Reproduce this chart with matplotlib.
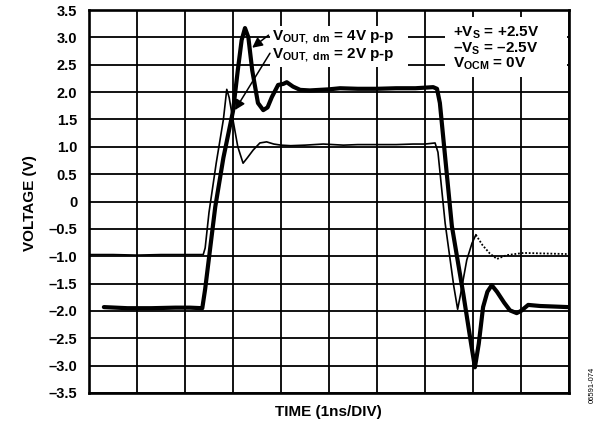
import matplotlib
matplotlib.use("Agg")
import matplotlib.pyplot as plt
from matplotlib.patches import Rectangle

plt.rcParams['font.family'] = ['Liberation Sans', 'DejaVu Sans']
plt.rcParams['font.weight'] = 'bold'
plt.rcParams['mathtext.fontset'] = 'custom'
plt.rcParams['mathtext.rm'] = 'Liberation Sans:bold'
plt.rcParams['mathtext.bf'] = 'Liberation Sans:bold'
plt.rcParams['mathtext.it'] = 'Liberation Sans:bold'

# --- data (time in ns, voltage in V) ---
# 4V p-p output (thick trace)
t_4v = [0.31, 0.8, 1.3, 1.8, 2.1, 2.36, 2.42, 2.63, 2.8, 3.0, 3.1, 3.18, 3.25,
        3.32, 3.4, 3.52, 3.63, 3.72, 3.81, 3.94, 4.05, 4.12, 4.25, 4.4, 4.6,
        5.0, 5.23, 5.6, 6.0, 6.4, 6.8, 7.17, 7.25, 7.31, 7.56, 7.8, 7.96, 8.04,
        8.12, 8.21, 8.3, 8.39, 8.5, 8.65, 8.77, 8.91, 9.0, 9.15, 9.4, 9.7, 9.98]
v_4v = [-1.93, -1.95, -1.95, -1.94, -1.94, -1.95, -1.6, -0.1, 0.8, 1.65, 2.4,
        2.95, 3.17, 3.0, 2.4, 1.8, 1.67, 1.72, 1.91, 2.13, 2.15, 2.18, 2.1, 2.04,
        2.03, 2.05, 2.07, 2.06, 2.06, 2.07, 2.07, 2.09, 2.06, 1.8, -0.45, -1.7,
        -2.6, -3.03, -2.6, -1.93, -1.65, -1.53, -1.65, -1.85, -1.99, -2.04, -2.0,
        -1.89, -1.91, -1.92, -1.93]

# 2V p-p output (thin trace), solid part then dotted tail
t_2v = [0.0, 0.5, 1.0, 1.5, 2.0, 2.38, 2.42, 2.5, 2.65, 2.8, 2.87, 2.92, 3.0,
        3.1, 3.21, 3.3, 3.42, 3.56, 3.7, 3.85, 4.0, 4.2, 4.5, 4.88, 5.3, 5.6,
        6.0, 6.4, 6.75, 7.0, 7.21, 7.27, 7.42, 7.6, 7.68, 7.74, 7.87, 7.98, 8.06]
v_2v = [-0.97, -0.97, -0.98, -0.97, -0.97, -0.97, -0.85, -0.2, 0.7, 1.5, 2.05,
        1.9, 1.49, 1.0, 0.7, 0.8, 0.94, 1.07, 1.09, 1.05, 1.03, 1.02, 1.03, 1.05,
        1.03, 1.04, 1.04, 1.04, 1.05, 1.05, 1.07, 0.9, -0.4, -1.55, -1.97, -1.7,
        -1.07, -0.76, -0.61]
t_2v_tail = [8.06, 8.2, 8.35, 8.5, 8.7, 9.05, 9.5, 9.95]
v_2v_tail = [-0.61, -0.8, -0.95, -1.05, -0.98, -0.94, -0.95, -0.96]

y_ticks = [3.5, 3.0, 2.5, 2.0, 1.5, 1.0, 0.5, 0, -0.5, -1.0, -1.5, -2.0, -2.5, -3.0, -3.5]
y_labels = ['3.5', '3.0', '2.5', '2.0', '1.5', '1.0', '0.5', '0', '–0.5', '–1.0',
            '–1.5', '–2.0', '–2.5', '–3.0', '–3.5']

fig = plt.figure(figsize=(5.97, 4.25), dpi=100)
ax = fig.add_axes([89/597, 1-393/425, 480/597, 383/425])

ax.set_xlim(0, 10)
ax.set_ylim(-3.5, 3.5)
ax.set_xticks(range(11))
ax.set_xticklabels([])
ax.set_yticks(y_ticks)
ax.set_yticklabels(y_labels, fontsize=10.5, fontweight='bold')
ax.tick_params(length=0, pad=8.5)
ax.set_axisbelow(True)
ax.grid(True, color='black', linewidth=1.3)
for s in ax.spines.values():
    s.set_linewidth(1.9)

# white areas behind the annotation texts
ax.add_patch(Rectangle((0.377, 0.851), 0.288, 0.107, transform=ax.transAxes,
                       facecolor='white', edgecolor='none', zorder=1))
ax.add_patch(Rectangle((0.742, 0.825), 0.254, 0.157, transform=ax.transAxes,
                       facecolor='white', edgecolor='none', zorder=1))

ax.plot(t_2v, v_2v, color='black', linewidth=1.2, solid_joinstyle='round', zorder=3)
ax.plot(t_2v_tail, v_2v_tail, color='black', linewidth=1.3, linestyle=(0, (1, 1)), zorder=3)
ax.plot(t_4v, v_4v, color='black', linewidth=3.0, solid_joinstyle='round',
        solid_capstyle='round', zorder=4)

# labels with arrows
ax.text(3.81, 2.95, r'V$_{\mathbf{OUT,\ dm}}$ = 4V p-p', fontsize=11,
        fontweight='bold', va='baseline', zorder=5)
ax.text(3.81, 2.62, r'V$_{\mathbf{OUT,\ dm}}$ = 2V p-p', fontsize=11,
        fontweight='bold', va='baseline', zorder=5)
ax.annotate('', xy=(3.40, 2.81), xytext=(3.74, 3.04),
            arrowprops=dict(arrowstyle='-|>', color='black', lw=1.1, mutation_scale=15,
                            shrinkA=0, shrinkB=0), zorder=5)
ax.annotate('', xy=(3.04, 1.67), xytext=(3.77, 2.71),
            arrowprops=dict(arrowstyle='-|>', color='black', lw=1.1, mutation_scale=15,
                            shrinkA=0, shrinkB=0), zorder=5)

ax.text(7.58, 3.02, r'+V$_{\mathbf{S}}$ = +2.5V', fontsize=11, fontweight='bold',
        va='baseline', zorder=5)
ax.text(7.58, 2.73, r'–V$_{\mathbf{S}}$ = –2.5V', fontsize=11, fontweight='bold',
        va='baseline', zorder=5)
ax.text(7.58, 2.44, r'V$_{\mathbf{OCM}}$ = 0V', fontsize=11, fontweight='bold',
        va='baseline', zorder=5)

fig.text(30/597, 1-203/425, 'VOLTAGE (V)', rotation=90, ha='center', va='center',
         fontsize=11, fontweight='bold')
fig.text(328/597, 1-412/425, 'TIME (1ns/DIV)', ha='center', va='center',
         fontsize=11, fontweight='bold')
fig.text(592/597, 1-385/425, '06591-074', rotation=90, ha='center', va='center',
         fontsize=5.5, fontweight='normal')

fig.savefig('out.png', dpi=100)
